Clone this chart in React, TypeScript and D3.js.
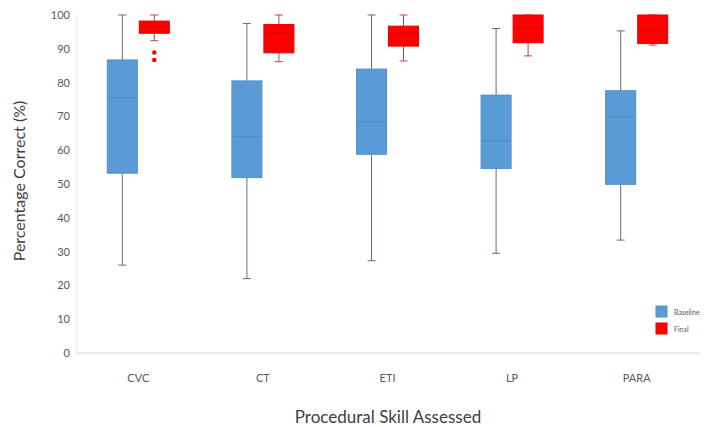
import { useEffect, useRef } from 'react';
import * as d3 from 'd3';

const skills = ['CVC', 'CT', 'ETI', 'LP', 'PARA'];
const yTicks = [0, 10, 20, 30, 40, 50, 60, 70, 80, 90, 100];

// baseline five-number summaries
const baselineMin = [26, 22, 27.3, 29.5, 33.4];
const baselineQ1 = [53.2, 51.9, 58.8, 54.6, 49.9];
const baselineMedian = [75.6, 64, 68.4, 62.8, 69.9];
const baselineQ3 = [86.7, 80.5, 84, 76.3, 77.6];
const baselineMax = [100, 97.5, 100, 96, 95.3];

// final five-number summaries
const finalMin = [92.4, 86.2, 86.4, 87.9, 91.1];
const finalQ1 = [94.6, 88.8, 90.8, 91.8, 91.6];
const finalMedian = [96.6, 94.8, 94.4, 96, 95.4];
const finalQ3 = [98.2, 97.2, 96.7, 100, 100];
const finalMax = [100, 100, 100, 100, 100];
const finalOutliers = [[88.9, 86.7], [], [], [], []];

const seriesNames = ['Baseline', 'Final'];

const App = () => {
  const svgRef = useRef<SVGSVGElement>(null);

  useEffect(() => {
    const svg = d3.select(svgRef.current);
    svg.selectAll('*').remove();

    const width = 715;
    const height = 427;
    const font = 'Lato, "Open Sans", sans-serif';

    const x = d3.scaleBand().domain(skills).range([76, 699]);
    const y = d3.scaleLinear().domain([0, 100]).range([353, 15]);

    const boxW = 30;
    const offset = 16;

    const series = [
      {
        name: seriesNames[0], dx: -offset,
        fill: '#5b9bd5', stroke: '#5090cb', median: '#4f89c2', whisker: '#5f6f80',
        min: baselineMin, q1: baselineQ1, med: baselineMedian, q3: baselineQ3, max: baselineMax,
        outliers: skills.map(() => [] as number[])
      },
      {
        name: seriesNames[1], dx: offset,
        fill: '#ff0000', stroke: '#e00000', median: '#e00000', whisker: '#c84040',
        min: finalMin, q1: finalQ1, med: finalMedian, q3: finalQ3, max: finalMax,
        outliers: finalOutliers
      }
    ];

    // axes lines
    svg.append('line')
      .attr('x1', 77).attr('x2', 77)
      .attr('y1', y(100)).attr('y2', y(0))
      .attr('stroke', '#e3e3e3');
    svg.append('line')
      .attr('x1', 77).attr('x2', 700)
      .attr('y1', y(0)).attr('y2', y(0))
      .attr('stroke', '#d4d4d4');

    // y tick labels
    svg.append('g')
      .selectAll('text')
      .data(yTicks)
      .enter()
      .append('text')
      .attr('x', 70)
      .attr('y', d => y(d) + 4)
      .attr('text-anchor', 'end')
      .attr('font-family', font)
      .attr('font-size', 11)
      .attr('fill', '#595959')
      .text(d => d);

    // x tick labels
    svg.append('g')
      .selectAll('text')
      .data(skills)
      .enter()
      .append('text')
      .attr('x', d => x(d)! + x.bandwidth() / 2)
      .attr('y', 382)
      .attr('text-anchor', 'middle')
      .attr('font-family', font)
      .attr('font-size', 11)
      .attr('fill', '#595959')
      .text(d => d);

    series.forEach(s => {
      const g = svg.append('g');
      skills.forEach((k, i) => {
        const cx = x(k)! + x.bandwidth() / 2 + s.dx;
        // whiskers
        g.append('line')
          .attr('x1', cx).attr('x2', cx)
          .attr('y1', y(s.max[i])).attr('y2', y(s.q3[i]))
          .attr('stroke', s.whisker).attr('stroke-width', 1);
        g.append('line')
          .attr('x1', cx).attr('x2', cx)
          .attr('y1', y(s.q1[i])).attr('y2', y(s.min[i]))
          .attr('stroke', s.whisker).attr('stroke-width', 1);
        [s.max[i], s.min[i]].forEach(v => {
          g.append('line')
            .attr('x1', cx - 4).attr('x2', cx + 4)
            .attr('y1', y(v)).attr('y2', y(v))
            .attr('stroke', s.whisker).attr('stroke-width', 1);
        });
        // box
        g.append('rect')
          .attr('x', cx - boxW / 2)
          .attr('y', y(s.q3[i]))
          .attr('width', boxW)
          .attr('height', y(s.q1[i]) - y(s.q3[i]))
          .attr('fill', s.fill)
          .attr('stroke', s.stroke)
          .attr('stroke-width', 1);
        g.append('line')
          .attr('x1', cx - boxW / 2).attr('x2', cx + boxW / 2)
          .attr('y1', y(s.med[i])).attr('y2', y(s.med[i]))
          .attr('stroke', s.median).attr('stroke-width', 1);
        // outliers
        g.selectAll(null)
          .data(s.outliers[i])
          .enter()
          .append('circle')
          .attr('cx', cx)
          .attr('cy', d => y(d))
          .attr('r', 2.3)
          .attr('fill', s.fill);
      });
    });

    // legend
    const legend = svg.append('g');
    series.forEach((s, i) => {
      const row = legend.append('g').attr('transform', `translate(656, ${306 + i * 17})`);
      row.append('rect')
        .attr('width', 11).attr('height', 11)
        .attr('fill', s.fill).attr('stroke', s.stroke);
      row.append('text')
        .attr('x', 18).attr('y', 8.5)
        .attr('font-family', font)
        .attr('font-size', 7)
        .attr('fill', '#595959')
        .text(s.name);
    });

    // axis titles
    svg.append('text')
      .attr('x', 388)
      .attr('y', 423)
      .attr('text-anchor', 'middle')
      .attr('font-family', font)
      .attr('font-size', 17)
      .attr('fill', '#404040')
      .text('Procedural Skill Assessed');

    svg.append('text')
      .attr('transform', 'translate(25, 181) rotate(-90)')
      .attr('text-anchor', 'middle')
      .attr('font-family', font)
      .attr('font-size', 16)
      .attr('fill', '#404040')
      .text('Percentage Correct (%)');

    svg.attr('width', width).attr('height', height);
  }, []);

  return (
    <div style={{ position: 'fixed', left: 0, top: 0, background: '#fff' }}>
      <svg ref={svgRef} style={{ display: 'block' }} />
    </div>
  );
};

export default App;
